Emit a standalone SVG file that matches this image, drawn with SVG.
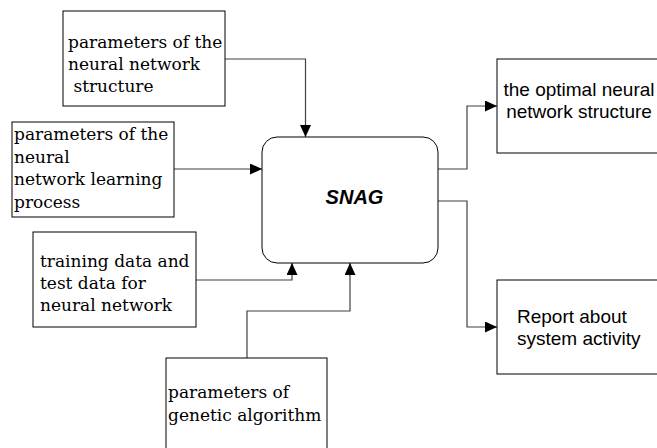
<svg xmlns="http://www.w3.org/2000/svg" width="657" height="448" viewBox="0 0 657 448">
<defs>
<marker id="ah" viewBox="0 0 12 11" refX="12" refY="5.5" markerWidth="12" markerHeight="11" markerUnits="userSpaceOnUse" orient="auto">
<path d="M0,0 L12,5.5 L0,11 Z" fill="#000"/>
</marker>
<style>
.box{fill:#fff;stroke:#000;stroke-width:1}
.serif{font-family:"DejaVu Serif","Liberation Serif",serif;font-size:17px;fill:#000}
.sans{font-family:"Liberation Sans",Arial,sans-serif;font-size:19px;fill:#000}
.conn{fill:none;stroke:#404040;stroke-width:1.2;marker-end:url(#ah)}
</style>
</defs>
<rect width="657" height="448" fill="#fff"/>
<g id="connectors">
<polyline class="conn" points="225,59 305.5,59 305.5,137"/>
<polyline class="conn" points="174,169 262,169"/>
<polyline class="conn" points="196,280 292,280 292,263"/>
<polyline class="conn" points="247,358 247,311 350,311 350,263"/>
<polyline class="conn" points="438,169 467,169 467,106 497,106"/>
<polyline class="conn" points="438,201 467,201 467,327 497,327"/>
</g>
<g id="snag">
<rect class="box" x="262" y="137" width="176" height="126" rx="15" ry="15"/>
<text x="354.5" y="204" text-anchor="middle" style="font-family:'Liberation Sans',Arial,sans-serif;font-size:20px;font-weight:bold;font-style:italic">SNAG</text>
</g>
<g id="nn-structure-params">
<rect class="box" x="63" y="11" width="162" height="95"/>
<text class="serif"><tspan x="68" y="48">parameters of the</tspan><tspan x="68" y="70">neural network</tspan><tspan x="68" y="92"> structure</tspan></text>
</g>
<g id="nn-learning-params">
<rect class="box" x="12" y="122" width="162" height="95"/>
<text class="serif"><tspan x="14" y="140">parameters of the</tspan><tspan x="14" y="163">neural</tspan><tspan x="14" y="185">network learning</tspan><tspan x="14" y="208">process</tspan></text>
</g>
<g id="training-data">
<rect class="box" x="33" y="232" width="163" height="95"/>
<text class="serif"><tspan x="40" y="267">training data and</tspan><tspan x="40" y="289">test data for</tspan><tspan x="40" y="311">neural network</tspan></text>
</g>
<g id="ga-params">
<rect class="box" x="166" y="358" width="161" height="100"/>
<text class="serif"><tspan x="168" y="398">parameters of</tspan><tspan x="168" y="421">genetic algorithm</tspan></text>
</g>
<g id="optimal-structure">
<rect class="box" x="497" y="59" width="170" height="94"/>
<text class="sans" text-anchor="middle"><tspan x="579" y="96">the optimal neural</tspan><tspan x="579" y="118">network structure</tspan></text>
</g>
<g id="report">
<rect class="box" x="497" y="280" width="170" height="94"/>
<text class="sans"><tspan x="517" y="323">Report about</tspan><tspan x="517" y="345">system activity</tspan></text>
</g>
</svg>
